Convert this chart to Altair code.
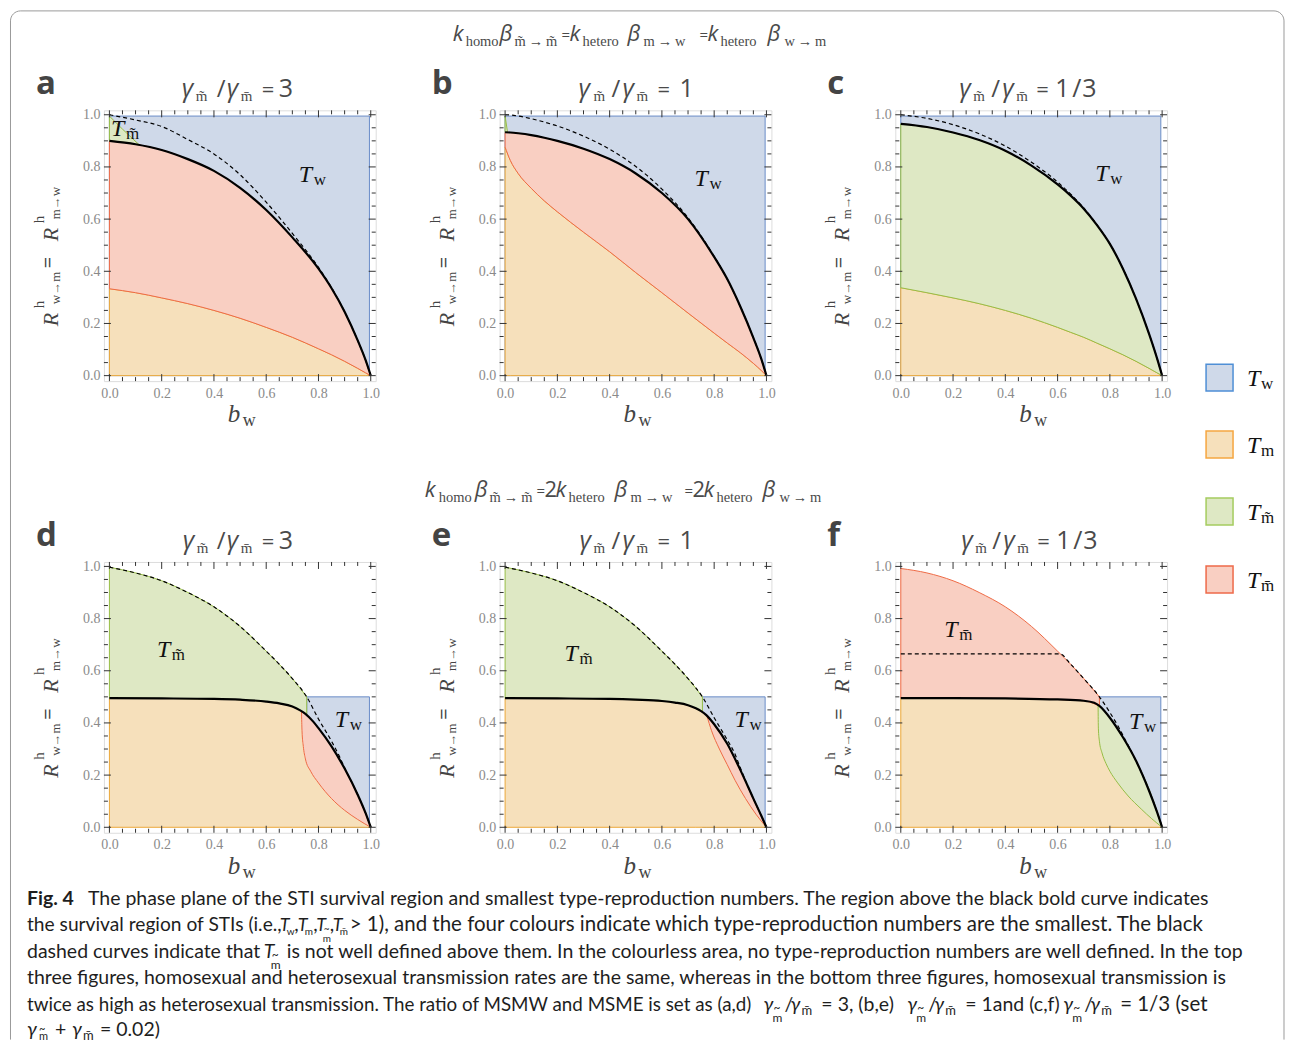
import math
import altair as alt
import pandas as pd

SERIF = "Liberation Serif"
SANS = "Open Sans"
CAP = "Lato"
CS = 19.5           # caption font size
MT = "m\u0303"      # m tilde
MB = "m\u0304"      # m bar
TS = "\u2009"       # thin space

# ---------------- data ----------------
MAJOR = [0.0, 0.2, 0.4, 0.6, 0.8, 1.0]
MINOR = [0.05, 0.1, 0.15, 0.25, 0.3, 0.35, 0.45, 0.5, 0.55, 0.65, 0.7, 0.75, 0.85, 0.9, 0.95]

# panel a
A_X = [0, 0.1, 0.2, 0.3, 0.4, 0.5, 0.6, 0.7, 0.8, 0.85, 0.9, 0.95, 0.98, 1.0]
A_BLACK = [0.90, 0.887, 0.865, 0.83, 0.785, 0.72, 0.635, 0.53, 0.41, 0.335, 0.245, 0.135, 0.06, 0.0]
A_DASH = [1.0, 0.98, 0.955, 0.905, 0.85, 0.77, 0.665, 0.545, 0.415, 0.337, 0.245, 0.135, 0.06, 0.0]
A_LOWER = [0.333, 0.318, 0.298, 0.276, 0.25, 0.22, 0.185, 0.147, 0.103, 0.08, 0.055, 0.028, 0.011, 0.0]
A_GREEN_X = [0, 0.05, 0.115]
A_GREEN_TOP = [0.995, 0.945, 0.884]
A_GREEN_BOT = [0.90, 0.895, 0.884]

# panel b
B_X = [0, 0.02, 0.05, 0.1, 0.15, 0.2, 0.3, 0.4, 0.5, 0.6, 0.7, 0.8, 0.85, 0.9, 0.95, 0.98, 1.0]
B_BLACK = [0.933, 0.932, 0.929, 0.922, 0.912, 0.9, 0.87, 0.83, 0.775, 0.70, 0.6, 0.455, 0.37, 0.265, 0.145, 0.065, 0.0]
B_DASH = [1.0, 0.999, 0.995, 0.985, 0.972, 0.957, 0.918, 0.868, 0.802, 0.715, 0.605, 0.457, 0.37, 0.265, 0.145, 0.065, 0.0]
B_LOWER = [0.876, 0.825, 0.775, 0.718, 0.67, 0.628, 0.55, 0.475, 0.395, 0.318, 0.24, 0.163, 0.125, 0.088, 0.047, 0.02, 0.0]
B_GREEN_X = [0, 0.009]
B_GREEN_TOP = [0.995, 0.935]
B_GREEN_BOT = [0.933, 0.933]

# panel c
C_X = [0, 0.1, 0.2, 0.3, 0.4, 0.5, 0.6, 0.65, 0.7, 0.75, 0.8, 0.85, 0.9, 0.95, 0.98, 1.0]
C_BLACK = [0.965, 0.953, 0.932, 0.903, 0.862, 0.805, 0.733, 0.69, 0.64, 0.578, 0.505, 0.41, 0.295, 0.16, 0.068, 0.0]
C_DASH = [1.0, 0.986, 0.962, 0.927, 0.88, 0.818, 0.742, 0.696, 0.643, 0.579, 0.505, 0.41, 0.295, 0.16, 0.068, 0.0]
C_LOWER = [0.337, 0.318, 0.298, 0.276, 0.25, 0.22, 0.185, 0.166, 0.147, 0.125, 0.103, 0.08, 0.055, 0.028, 0.011, 0.0]

# panel d
D_X = [0, 0.2, 0.4, 0.5, 0.6, 0.65, 0.7, 0.73, 0.75, 0.78, 0.8, 0.85, 0.9, 0.95, 0.98, 1.0]
D_BLACK = [0.495, 0.494, 0.492, 0.489, 0.482, 0.475, 0.463, 0.448, 0.435, 0.405, 0.38, 0.31, 0.225, 0.125, 0.055, 0.0]
D_UP_X = [0, 0.1, 0.2, 0.3, 0.4, 0.5, 0.6, 0.65, 0.7, 0.755]
D_UP = [0.997, 0.975, 0.945, 0.9, 0.845, 0.77, 0.675, 0.625, 0.57, 0.5]
D_UP_BOT = [0.495, 0.4945, 0.494, 0.493, 0.492, 0.489, 0.482, 0.475, 0.463, 0.432]
D_DASH_X = [0, 0.1, 0.2, 0.3, 0.4, 0.5, 0.6, 0.65, 0.7, 0.755, 0.8, 0.85, 0.88, 0.9, 0.95, 0.98, 1.0]
D_DASH = [0.997, 0.975, 0.945, 0.9, 0.845, 0.77, 0.675, 0.625, 0.57, 0.5, 0.415, 0.33, 0.272, 0.228, 0.125, 0.055, 0.0]
D_RED_X = [0.735, 0.737, 0.742, 0.75, 0.77, 0.8, 0.85, 0.9, 0.95, 1.0]
D_RED_TOP = [0.445, 0.443, 0.439, 0.435, 0.413, 0.38, 0.31, 0.225, 0.125, 0.0]
D_RED_BOT = [0.445, 0.37, 0.31, 0.262, 0.215, 0.17, 0.11, 0.065, 0.03, 0.0]
D_BLUE = [0.755, 0.995, 0.0, 0.5]

# panel e
E_X = [0, 0.2, 0.4, 0.5, 0.6, 0.65, 0.7, 0.73, 0.75, 0.77, 0.8, 0.85, 0.9, 0.95, 0.98, 1.0]
E_BLACK = [0.495, 0.494, 0.492, 0.489, 0.484, 0.478, 0.468, 0.456, 0.445, 0.43, 0.395, 0.32, 0.22, 0.11, 0.045, 0.0]
E_UP_X = [0, 0.1, 0.2, 0.3, 0.4, 0.5, 0.6, 0.65, 0.7, 0.755]
E_UP = [0.997, 0.975, 0.945, 0.9, 0.845, 0.77, 0.675, 0.625, 0.57, 0.5]
E_UP_BOT = [0.495, 0.4945, 0.494, 0.493, 0.492, 0.489, 0.484, 0.478, 0.468, 0.442]
E_DASH_X = [0, 0.1, 0.2, 0.3, 0.4, 0.5, 0.6, 0.65, 0.7, 0.755, 0.8, 0.85, 0.88, 0.9, 0.95, 0.98, 1.0]
E_DASH = [0.997, 0.975, 0.945, 0.9, 0.845, 0.77, 0.675, 0.625, 0.57, 0.5, 0.42, 0.335, 0.28, 0.228, 0.11, 0.045, 0.0]
E_RED_X = [0.772, 0.79, 0.82, 0.85, 0.88, 0.92, 0.96, 1.0]
E_RED_TOP = [0.428, 0.405, 0.365, 0.32, 0.26, 0.176, 0.085, 0.0]
E_RED_BOT = [0.428, 0.37, 0.3, 0.24, 0.18, 0.11, 0.05, 0.0]
E_BLUE = [0.755, 0.995, 0.0, 0.5]

# panel f
F_X = [0, 0.2, 0.4, 0.6, 0.7, 0.74, 0.76, 0.78, 0.8, 0.85, 0.9, 0.95, 0.98, 1.0]
F_BLACK = [0.495, 0.495, 0.494, 0.49, 0.485, 0.477, 0.465, 0.445, 0.42, 0.345, 0.255, 0.14, 0.06, 0.0]
F_UP_X = [0, 0.1, 0.2, 0.3, 0.4, 0.5, 0.6, 0.65, 0.7, 0.76]
F_UP = [0.992, 0.975, 0.945, 0.9, 0.845, 0.77, 0.675, 0.625, 0.57, 0.5]
F_UP_BOT = [0.495, 0.495, 0.495, 0.495, 0.494, 0.492, 0.49, 0.488, 0.485, 0.465]
F_DASH_X = [0, 0.608, 0.65, 0.7, 0.76, 0.8, 0.83, 0.86, 0.9, 0.95, 0.98, 1.0]
F_DASH = [0.665, 0.665, 0.625, 0.57, 0.5, 0.44, 0.39, 0.333, 0.255, 0.14, 0.06, 0.0]
F_GREEN_X = [0.755, 0.756, 0.76, 0.77, 0.785, 0.8, 0.83, 0.87, 0.92, 0.96, 1.0]
F_GREEN_TOP = [0.468, 0.467, 0.465, 0.455, 0.438, 0.42, 0.375, 0.31, 0.215, 0.12, 0.0]
F_GREEN_BOT = [0.468, 0.38, 0.33, 0.285, 0.245, 0.215, 0.17, 0.12, 0.07, 0.033, 0.0]
F_BLUE = [0.76, 0.995, 0.0, 0.5]

FULL_BLUE = [0.0, 0.995, 0.0, 0.995]

# ---------------- styling ----------------
COL = {
    "blue": ("#CFD9E9", "#6A8DC8"),
    "orange": ("#F6E0BB", "#EBA83A"),
    "green": ("#DEE8C4", "#97BD45"),
    "red": ("#F9CFC2", "#EE6A45"),
}
LEG_STROKE = {"blue": "#4F8FD6", "orange": "#F5A640", "green": "#A5CC5F", "red": "#EE6A4A"}

W, H = 272, 271
XDOM = [-0.021, 1.019]
YDOM = [-0.021, 1.017]
AX = dict(values=MAJOR, format=".1f", title=None, ticks=False, tickSize=0, domain=False,
          grid=False, labelFont=SERIF, labelFontSize=14, labelColor="#8a8a8a",
          labelFlush=False, labelOverlap=False)


def X(f="x"):
    return alt.X(f + ":Q", scale=alt.Scale(domain=XDOM, nice=False, zero=False),
                 axis=alt.Axis(labelPadding=5, **AX))


def Y(f="y"):
    return alt.Y(f + ":Q", scale=alt.Scale(domain=YDOM, nice=False, zero=False),
                 axis=alt.Axis(labelPadding=4, **AX))


def T(x, y, t, s, c="#444", font=SERIF, style="normal", weight="normal", angle=0):
    return dict(x=x, y=y, t=t, s=s, c=c, font=font, style=style, weight=weight, angle=angle)


def text_layers(items):
    groups = {}
    for it in items:
        key = (it["font"], it["style"], it["weight"], it["angle"])
        groups.setdefault(key, []).append(it)
    out = []
    for (font, style, weight, angle), its in groups.items():
        df = pd.DataFrame({"px": [i["x"] for i in its], "py": [i["y"] for i in its],
                           "txt": [i["t"] for i in its], "fs": [i["s"] for i in its],
                           "col": [i["c"] for i in its]})
        mk = dict(font=font, fontStyle=style, fontWeight=weight, align="left", baseline="alphabetic")
        if angle:
            mk["angle"] = angle
        out.append(alt.Chart(df).mark_text(**mk).encode(
            x=alt.X("px:Q", scale=None, axis=None),
            y=alt.Y("py:Q", scale=None, axis=None),
            text="txt:N",
            size=alt.Size("fs:Q", scale=None, legend=None),
            color=alt.Color("col:N", scale=None, legend=None),
        ))
    return out


def tick_layers():
    out = []
    for vals, L in ((MAJOR, 7), (MINOR, 4)):
        dfx = pd.DataFrame({"x": vals})
        dfy = pd.DataFrame({"y": vals})
        r = dict(color="#333", strokeWidth=1)
        out.append(alt.Chart(dfx).mark_rule(**r).encode(x=X(), y=alt.value(H), y2=alt.value(H - L)))
        out.append(alt.Chart(dfx).mark_rule(**r).encode(x=X(), y=alt.value(0), y2=alt.value(L)))
        out.append(alt.Chart(dfy).mark_rule(**r).encode(y=Y(), x=alt.value(0), x2=alt.value(L)))
        out.append(alt.Chart(dfy).mark_rule(**r).encode(y=Y(), x=alt.value(W), x2=alt.value(W - L)))
    return out


def title_items(xs, tail):
    g1, s1, sl, g2, s2, eq = xs
    by, sy = -13, -9
    c = "#4a4a4a"
    it = [T(g1, by, "γ", 25, c, SANS, "italic"), T(s1, sy, MT, 15, c, SERIF),
          T(sl, by, "/", 24, c, SANS), T(g2, by, "γ", 25, c, SANS, "italic"),
          T(s2, sy, MB, 15, c, SERIF), T(eq, by, "=", 22, c, SANS)]
    for x, t in tail:
        it.append(T(x, by, t, 25, c, SANS))
    return it


def axis_title_items(letter):
    c = "#444"
    return [
        T(-68, -16, letter, 33, "#444", SANS, weight="bold"),
        T(124, 312, "b", 25, c, SERIF, "italic"),
        T(139, 316, "w", 18, c, SERIF),
        T(-46, 216, "R", 22, c, SERIF, "italic", angle=270),
        T(-60, 198, "h", 15, c, SERIF, angle=270),
        T(-44, 194, "w→m", 13, c, SERIF, angle=270),
        T(-49, 158, "=", 20, c, SANS, angle=270),
        T(-46, 131, "R", 22, c, SERIF, "italic", angle=270),
        T(-60, 113, "h", 15, c, SERIF, angle=270),
        T(-44, 109, "m→w", 13, c, SERIF, angle=270),
    ]


def region_label(x, y, sub):
    return [T(x, y, "T", 24, "#111", SERIF, "italic"), T(x + 15, y + 3, sub, 17, "#111", SERIF)]


def panel(blue, areas, dashed, black, texts, extra=()):
    layers = list(extra)
    bx0, bx1, by0, by1 = blue
    f, s = COL["blue"]
    layers.append(alt.Chart(pd.DataFrame({"x": [bx0], "x2": [bx1], "y": [by0], "y2": [by1]}))
                  .mark_rect(fill=f, stroke=s, strokeWidth=1)
                  .encode(x=X(), x2="x2", y=Y(), y2="y2"))
    for color, xs, top, bot in areas:
        f, s = COL[color]
        df = pd.DataFrame({"x": xs, "y": top, "y2": bot})
        layers.append(alt.Chart(df).mark_area(fill=f, stroke=s, strokeWidth=1, interpolate="monotone")
                      .encode(x=X(), y=Y(), y2="y2"))
    dx, dy = dashed
    layers.append(alt.Chart(pd.DataFrame({"x": dx, "y": dy}))
                  .mark_line(color="black", strokeWidth=1.2, strokeDash=[4, 3], interpolate="monotone")
                  .encode(x=X(), y=Y()))
    kx, ky = black
    layers.append(alt.Chart(pd.DataFrame({"x": kx, "y": ky}))
                  .mark_line(color="black", strokeWidth=2.2, interpolate="monotone")
                  .encode(x=X(), y=Y()))
    layers += tick_layers()
    layers += text_layers(texts)
    return alt.layer(*layers).properties(width=W, height=H)


def zeros(xs):
    return [0.0] * len(xs)


# ---------- figure border (open at the bottom, as in the cropped reference) ----------
BL, BT, BR, BB, RAD = -93.5, -99.5, 1181, 930, 10
bpx, bpy = [BL], [BB]
for k in range(9):
    a = math.radians(180 + k * 90 / 8)
    bpx.append(BL + RAD + RAD * math.cos(a)); bpy.append(BT + RAD + RAD * math.sin(a))
for k in range(9):
    a = math.radians(270 + k * 90 / 8)
    bpx.append(BR - RAD + RAD * math.cos(a)); bpy.append(BT + RAD + RAD * math.sin(a))
bpx.append(BR); bpy.append(BB)
border = (alt.Chart(pd.DataFrame({"px": bpx, "py": bpy, "i": list(range(len(bpx)))}))
          .mark_line(color="#9a9a9a", strokeWidth=1)
          .encode(x=alt.X("px:Q", scale=None, axis=None), y=alt.Y("py:Q", scale=None, axis=None),
                  order="i:Q"))


def arrow(a, b):
    return a + TS + "→" + TS + b


def header_items(y, pieces):
    c = "#4a4a4a"
    out = []
    for x, t, kind in pieces:
        if kind == "it":
            out.append(T(x, y, t, 22, c, SANS, "italic"))
        elif kind == "sub":
            out.append(T(x, y + 5, t, 14.5, c, SERIF))
        elif kind == "eq":
            out.append(T(x, y - 1, t, 15, c, SANS))
        else:
            out.append(T(x, y, t, 22, c, SANS))
    return out


HEAD1 = [(-47, "k", "it"), (-34, "homo", "sub"), (0, "β", "it"), (15, arrow(MT, MT), "sub"),
         (62, "=", "eq"), (70, "k", "it"), (83, "hetero", "sub"), (128, "β", "it"),
         (144, arrow("m", "w"), "sub"),
         (200, "=", "eq"), (208, "k", "it"), (221, "hetero", "sub"), (268, "β", "it"),
         (285, arrow("w", "m"), "sub")]
HEAD2 = [(-75, "k", "it"), (-61, "homo", "sub"), (-25, "β", "it"), (-10, arrow(MT, MT), "sub"),
         (37, "=", "eq"), (45, "2", "n"), (56, "k", "it"), (69, "hetero", "sub"), (115, "β", "it"),
         (131, arrow("m", "w"), "sub"), (185, "=", "eq"), (193, "2", "n"), (204, "k", "it"),
         (217, "hetero", "sub"), (263, "β", "it"), (280, arrow("w", "m"), "sub")]

# legend (panel c coordinates)
legend_layers = []
legend_texts = []
DUMMY = pd.DataFrame({"d": [0]})
for (name, top, sub) in [("blue", 254, "w"), ("orange", 321, "m"), ("green", 388, MT), ("red", 456, MB)]:
    f, _ = COL[name]
    legend_layers.append(alt.Chart(DUMMY).mark_rect(fill=f, stroke=LEG_STROKE[name], strokeWidth=1.5)
                         .encode(x=alt.value(311), x2=alt.value(338), y=alt.value(top), y2=alt.value(top + 27)))
    legend_texts += [T(352, top + 22, "T", 24, "#111", SERIF, "italic"), T(366, top + 25, sub, 17, "#111", SERIF)]

# caption (panel d coordinates)
CC = "#1e1e1e"


def cap(x, y, t, s=CS, style="normal", weight="normal"):
    return T(x, y, t, s, CC, CAP, style, weight)


def gam_ratio(x, y):
    return [cap(x, y, "γ", CS, "italic"), cap(x + 10, y + 1, "~", 12), cap(x + 9, y + 11, "m", 12),
            cap(x + 21, y, "/"), cap(x + 27, y, "γ", CS, "italic"), cap(x + 38, y + 4, MB, 13)]


def tilde_m(x, y, s=12):
    return [cap(x + 1, y + 1, "~", s), cap(x, y + 11, "m", s)]


L1, L2, L3, L4, L5, L6 = 343, 369, 396, 422, 449, 474
caption = [
    cap(-77, L1, "Fig. 4", weight="bold"),
    cap(-16, L1, "The phase plane of the STI survival region and smallest type-reproduction numbers. The region above the black bold curve indicates"),
    cap(-77, L2, "the survival region of STIs (i.e.,", 19.2),
    cap(176, L2, "T", 18, style="italic"), cap(183, L2 + 4, "w", 10), cap(190.5, L2, ","),
    cap(194, L2, "T", 18, style="italic"), cap(201, L2 + 4, "m", 10), cap(209.5, L2, ","),
    cap(212.5, L2, "T", 18, style="italic")] + tilde_m(219, L2, 10) + [cap(226, L2, ","),
    cap(229, L2, "T", 18, style="italic"), cap(236, L2 + 4, MB, 10),
    cap(246, L2, "> 1), and the four colours indicate which type-reproduction numbers are the smallest. The black", 20.5),
    cap(-77, L3, "dashed curves indicate that"),
    cap(160, L3, "T", style="italic")] + tilde_m(167, L3) + [
    cap(183, L3, "is not well defined above them. In the colourless area, no type-reproduction numbers are well defined. In the top"),
    cap(-77, L4, "three figures, homosexual and heterosexual transmission rates are the same, whereas in the bottom three figures, homosexual transmission is"),
    cap(-77, L5, "twice as high as heterosexual transmission. The ratio of MSMW and MSME is set as (a,d)", 18.8),
] + gam_ratio(660, L5) + [cap(718, L5, "= 3, (b,e)")] + gam_ratio(804, L5) + \
    [cap(862, L5, "= 1and (c,f)")] + gam_ratio(960, L5) + [cap(1017, L5, "=  1/3  (set", 20.5)] + [
    cap(-77, L6, "γ", style="italic"), cap(-65, L6 - 3, "~", 11), cap(-65, L6 + 4, "m", 11),
    cap(-49, L6, "+"), cap(-32, L6, "γ", style="italic"), cap(-21, L6 + 4, MB, 13), cap(-4, L6, "= 0.02)"),
]

# ---------------- panels ----------------
pa = panel(FULL_BLUE,
           [("orange", A_X, A_LOWER, zeros(A_X)), ("red", A_X, A_BLACK, A_LOWER),
            ("green", A_GREEN_X, A_GREEN_TOP, A_GREEN_BOT)],
           (A_X, A_DASH), (A_X, A_BLACK),
           axis_title_items("a") + title_items([78, 92, 113, 123, 137, 158], [(175, "3")])
           + region_label(195, 72, "w") + region_label(7, 26, MT),
           extra=[border])

pb = panel(FULL_BLUE,
           [("orange", B_X, B_LOWER, zeros(B_X)), ("red", B_X, B_BLACK, B_LOWER),
            ("green", B_GREEN_X, B_GREEN_TOP, B_GREEN_BOT)],
           (B_X, B_DASH), (B_X, B_BLACK),
           axis_title_items("b") + title_items([79, 94, 112, 123, 137, 158], [(180, "1")])
           + region_label(195, 76, "w") + header_items(-69, HEAD1))

pc = panel(FULL_BLUE,
           [("orange", C_X, C_LOWER, zeros(C_X)), ("green", C_X, C_BLACK, C_LOWER)],
           (C_X, C_DASH), (C_X, C_BLACK),
           axis_title_items("c") + title_items([64, 78, 96, 107, 121, 141], [(160, "1"), (177, "/"), (187, "3")])
           + region_label(200, 71, "w") + legend_texts,
           extra=legend_layers)

pd_ = panel(D_BLUE,
            [("orange", D_X, D_BLACK, zeros(D_X)), ("red", D_RED_X, D_RED_TOP, D_RED_BOT),
             ("green", D_UP_X, D_UP, D_UP_BOT)],
            (D_DASH_X, D_DASH), (D_X, D_BLACK),
            axis_title_items("d") + title_items([79, 93, 113, 123, 137, 158], [(175, "3")])
            + region_label(53, 95, MT) + region_label(231, 165, "w") + caption)

pe = panel(E_BLUE,
           [("orange", E_X, E_BLACK, zeros(E_X)), ("red", E_RED_X, E_RED_TOP, E_RED_BOT),
            ("green", E_UP_X, E_UP, E_UP_BOT)],
           (E_DASH_X, E_DASH), (E_X, E_BLACK),
           axis_title_items("e") + title_items([80, 94, 112, 123, 137, 158], [(180, "1")])
           + region_label(65, 99, MT) + region_label(235, 165, "w") + header_items(-65, HEAD2))

pf = panel(F_BLUE,
           [("orange", F_X, F_BLACK, zeros(F_X)), ("red", F_UP_X, F_UP, F_UP_BOT),
            ("green", F_GREEN_X, F_GREEN_TOP, F_GREEN_BOT)],
           (F_DASH_X, F_DASH), (F_X, F_BLACK),
           axis_title_items("f") + title_items([66, 80, 97, 108, 122, 142], [(161, "1"), (178, "/"), (188, "3")])
           + region_label(49, 75, MB) + region_label(234, 167, "w"))

chart = alt.ConcatChart(
    concat=[pa, pb, pc, pd_, pe, pf], columns=3,
    spacing={"row": 181, "column": 124}, bounds="flush", padding=0,
).configure_view(stroke="#3a3a3a", strokeWidth=1).configure(background="white")

chart.save("out.html", embed_options={"renderer": "svg", "actions": False})
